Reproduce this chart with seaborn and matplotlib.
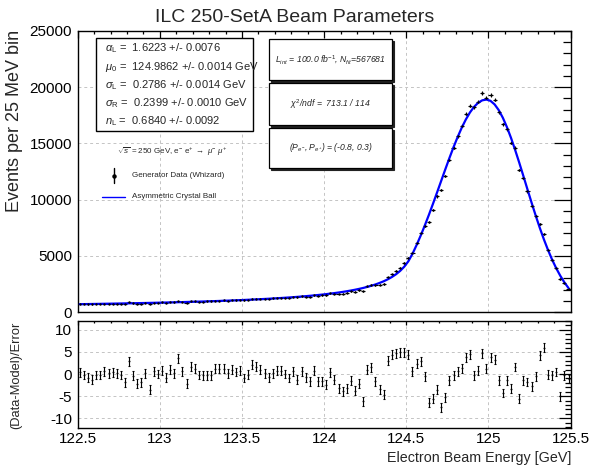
import numpy as np
import matplotlib
matplotlib.use("Agg")
import matplotlib.pyplot as plt
import seaborn as sns
from matplotlib.patches import Rectangle
from matplotlib.lines import Line2D
from matplotlib.ticker import MultipleLocator

# ---------------- data ----------------
bin_low = 122.5
bin_width = 0.025
n_bins = 120

model_counts = [
    696, 701, 707, 713, 719, 725, 732, 738, 744, 751,
    758, 765, 772, 779, 787, 794, 802, 810, 818, 826,
    835, 844, 853, 862, 872, 882, 892, 902, 913, 924,
    935, 947, 959, 971, 984, 997, 1011, 1025, 1040, 1055,
    1071, 1088, 1104, 1122, 1141, 1160, 1180, 1200, 1222, 1245,
    1269, 1294, 1320, 1347, 1377, 1407, 1440, 1474, 1511, 1549,
    1590, 1634, 1682, 1732, 1787, 1846, 1910, 1979, 2056, 2140,
    2232, 2337, 2453, 2586, 2735, 2910, 3116, 3359, 3657, 4030,
    4514, 5173, 5952, 6795, 7694, 8643, 9631, 10646, 11673, 12697,
    13700, 14663, 15568, 16398, 17131, 17755, 18253, 18617, 18833, 18900,
    18785, 18469, 17963, 17282, 16447, 15483, 14417, 13283, 12104, 10909,
    9728, 8581, 7486, 6460, 5517, 4659, 3892, 3217, 2629, 2126,
]

data_counts = [
    707, 696, 686, 678, 714, 720, 748, 743, 755, 756,
    752, 712, 853, 768, 725, 740, 808, 710, 835, 826,
    858, 821, 882, 868, 978, 900, 826, 953, 949, 918,
    926, 938, 950, 1008, 1022, 1035, 1017, 1057, 1054, 1079,
    1042, 1083, 1174, 1177, 1175, 1167, 1154, 1207, 1250, 1273,
    1269, 1262, 1342, 1299, 1399, 1379, 1377, 1503, 1447, 1484,
    1494, 1650, 1629, 1599, 1622, 1708, 1844, 1810, 1956, 1853,
    2279, 2409, 2371, 2413, 2489, 3072, 3362, 3632, 3953, 4341,
    4810, 5216, 6129, 7034, 7650, 8038, 9082, 10285, 10863, 12100,
    13536, 14627, 15643, 16571, 17628, 18354, 18212, 18726, 19478, 19065,
    19306, 18904, 17775, 16717, 16268, 15072, 14609, 12637, 11950, 10721,
    9452, 8535, 7849, 6942, 5506, 4639, 3920, 2934, 2614, 2075,
]

pulls = [
    0.4, -0.2, -0.8, -1.3, -0.2, -0.2, 0.6, 0.2, 0.4, 0.2,
    -0.2, -1.9, 2.9, -0.4, -2.2, -1.9, 0.2, -3.5, 0.6, 0.0,
    0.8, -0.8, 1.0, 0.2, 3.6, 0.6, -2.2, 1.7, 1.2, -0.2,
    -0.3, -0.3, -0.3, 1.2, 1.2, 1.2, 0.2, 1.0, 0.45, 0.75,
    -0.9, -0.15, 2.1, 1.65, 1.0, 0.2, -0.75, 0.2, 0.8, 0.8,
    0.0, -0.9, 0.6, -1.3, 0.6, -0.75, -1.65, 0.75, -1.65, -1.65,
    -2.4, 0.4, -1.3, -3.2, -3.9, -3.2, -1.5, -3.8, -2.2, -6.2,
    1.0, 1.5, -1.65, -3.4, -4.7, 3.0, 4.4, 4.7, 4.9, 4.9,
    4.4, 0.6, 2.3, 2.9, -0.5, -6.5, -5.6, -3.5, -7.5, -5.3,
    -1.4, -0.3, 0.6, 1.35, 3.8, 4.5, -0.3, 0.8, 4.7, 1.2,
    3.8, 3.2, -1.4, -4.3, -1.4, -3.3, 1.6, -5.6, -1.4, -1.8,
    -2.8, -0.5, 4.2, 6.0, -0.15, -0.3, 0.45, -5.0, -0.3, -1.1,
]

x_ticks = [122.5, 123, 123.5, 124, 124.5, 125, 125.5]
x_tick_labels = ["122.5", "123", "123.5", "124", "124.5", "125", "125.5"]
y_ticks_top = [0, 5000, 10000, 15000, 20000, 25000]
y_ticks_bottom = [-10, -5, 0, 5, 10]

param_lines = [
    r"$\alpha_{\rm L}$ =  1.6223 +/- 0.0076",
    r"$\mu_{\rm 0}$ =  124.9862 +/- 0.0014 GeV",
    r"$\sigma_{\rm L}$ =  0.2786 +/- 0.0014 GeV",
    r"$\sigma_{\rm R}$ =  0.2399 +/- 0.0010 GeV",
    r"$n_{\rm L}$ =  0.6840 +/- 0.0092",
]
info_lines = [
    r"$L_{int}$ = 100.0 fb$^{-1}$, $N_{fit}$=567681",
    r"$\chi^{2}$/ndf =  713.1 / 114",
    r"($P_{e^{-}}$, $P_{e^{+}}$) = (-0.8, 0.3)",
]

# ---------------- style ----------------
sns.set_theme(style="white")
plt.rcParams["font.family"] = ["Liberation Sans", "DejaVu Sans"]
plt.rcParams["mathtext.fontset"] = "custom"
plt.rcParams["mathtext.rm"] = "Liberation Sans"
plt.rcParams["mathtext.it"] = "Liberation Sans:italic"
plt.rcParams["mathtext.bf"] = "Liberation Sans:bold"
plt.rcParams["axes.unicode_minus"] = False

W, H = 590, 466
fig = plt.figure(figsize=(W / 100, H / 100), dpi=100)
fig.patch.set_facecolor("white")

def fx(px):
    return px / W

def fy(py):
    return 1 - py / H

ax1 = fig.add_axes([fx(77.7), fy(312), (570.6 - 77.7) / W, (312 - 31) / H])
ax2 = fig.add_axes([fx(77.7), fy(428), (570.6 - 77.7) / W, (428 - 321) / H])

centers = bin_low + bin_width * (np.arange(n_bins) + 0.5)
data = np.array(data_counts, dtype=float)
model = np.array(model_counts, dtype=float)
pull = np.array(pulls, dtype=float)

grid_kw = dict(color="#c4c4c4", linestyle=(0, (3, 3)), linewidth=0.7)

for ax in (ax1, ax2):
    ax.set_facecolor("white")
    ax.set_xlim(122.5, 125.5)
    ax.set_xticks(x_ticks)
    ax.xaxis.set_minor_locator(MultipleLocator(0.1))
    ax.grid(True, which="major", **grid_kw)
    ax.set_axisbelow(True)
    for s in ax.spines.values():
        s.set_color("black")
        s.set_linewidth(1.0)
    ax.tick_params(which="both", direction="in", top=True, right=True,
                   colors="black", width=0.9)

# top panel
ax1.errorbar(centers, data, xerr=bin_width / 2, yerr=np.sqrt(data), fmt="none",
             ecolor="black", elinewidth=0.8, zorder=2)
sns.lineplot(x=centers, y=model, ax=ax1, color="#0000ff", linewidth=1.6,
             zorder=3, legend=False)
sns.scatterplot(x=centers, y=data, ax=ax1, color="black", s=3, linewidth=0,
                zorder=4, legend=False)
ax1.set_ylim(0, 25000)
ax1.set_yticks(y_ticks_top)
ax1.set_yticklabels([str(v) for v in y_ticks_top])
ax1.yaxis.set_minor_locator(MultipleLocator(1000))
ax1.set_xticklabels([])
ax1.tick_params(axis="x", which="major", length=5)
ax1.tick_params(axis="x", which="minor", length=2.5)
ax1.tick_params(axis="y", which="major", length=12, labelsize=11, pad=4)
ax1.tick_params(axis="y", which="minor", length=6)
ax1.set_xlabel("")
ax1.set_ylabel("")

# bottom panel
ax2.errorbar(centers, pull, yerr=1.0, fmt="none", ecolor="black",
             elinewidth=0.8, capsize=1.0, capthick=0.8, zorder=2)
sns.scatterplot(x=centers, y=pull, ax=ax2, color="black", s=2, linewidth=0,
                zorder=3, legend=False)
ax2.set_ylim(-12.2, 12.0)
ax2.set_yticks(y_ticks_bottom)
ax2.set_yticklabels([str(v) for v in y_ticks_bottom])
ax2.yaxis.set_minor_locator(MultipleLocator(1))
ax2.set_xticklabels(x_tick_labels)
ax2.tick_params(axis="x", which="major", length=3, labelsize=11, pad=3)
ax2.tick_params(axis="x", which="minor", length=1.5)
ax2.tick_params(axis="y", which="major", length=9, labelsize=11, pad=4)
ax2.tick_params(axis="y", which="minor", length=4.5)
ax2.set_xlabel("")
ax2.set_ylabel("")

# titles and axis labels
fig.text(0.5, fy(17), "ILC 250-SetA Beam Parameters", ha="center", va="center",
         fontsize=14)
fig.text(fx(15), fy(30), "Events per 25 MeV bin", rotation=90, ha="center",
         va="top", fontsize=13)
fig.text(fx(16), fy(375), "(Data-Model)/Error", rotation=90, ha="center",
         va="center", fontsize=9.3)
fig.text(fx(571), fy(458), "Electron Beam Energy [GeV]", ha="right",
         va="center", fontsize=10.3)

# parameter box
fig.add_artist(Rectangle((fx(96), fy(131)), (253 - 96) / W, (131 - 38) / H,
                         transform=fig.transFigure, facecolor="white",
                         edgecolor="black", linewidth=1.0, zorder=5))
for k, line in enumerate(param_lines):
    fig.text(fx(105), fy(48.3 + 18.2 * k), line, ha="left", va="center",
             fontsize=8, zorder=6)

# info boxes with shadow
box_rows = [(39.3, 80.0), (83.3, 125.0), (127.7, 168.3)]
for (top, bot), txt in zip(box_rows, info_lines):
    fig.add_artist(Rectangle((fx(269.3 + 2), fy(bot + 2)), (391.7 - 269.3) / W,
                             (bot - top) / H, transform=fig.transFigure,
                             facecolor="#222222", edgecolor="#222222",
                             linewidth=0.8, zorder=5))
    fig.add_artist(Rectangle((fx(269.3), fy(bot)), (391.7 - 269.3) / W,
                             (bot - top) / H, transform=fig.transFigure,
                             facecolor="white", edgecolor="black",
                             linewidth=0.9, zorder=6))
    fig.text(fx(330.5), fy((top + bot) / 2), txt, ha="center", va="center",
             fontsize=6.2, style="italic", zorder=7)

# legend
fig.text(fx(172), fy(151.7),
         r"$\sqrt{s}$ = 250 GeV, e$^{-}$ e$^{+}$ $\rightarrow$ $\mu^{-}$ $\mu^{+}$",
         ha="center", va="center", fontsize=5.8, zorder=6)
fig.add_artist(Line2D([fx(114), fx(114)], [fy(168.2), fy(183.2)],
                      transform=fig.transFigure, color="black", lw=1.0, zorder=6))
fig.add_artist(Line2D([fx(114)], [fy(175.7)], transform=fig.transFigure,
                      marker="o", markersize=2.2, color="black", lw=0, zorder=6))
fig.text(fx(131.7), fy(175.7), "Generator Data (Whizard)", ha="left",
         va="center", fontsize=5.8, zorder=6)
fig.add_artist(Line2D([fx(101.7), fx(125)], [fy(196.7), fy(196.7)],
                      transform=fig.transFigure, color="#0000ff", lw=1.0, zorder=6))
fig.text(fx(131.7), fy(196.7), "Asymmetric Crystal Ball", ha="left",
         va="center", fontsize=5.8, zorder=6)

fig.savefig("out.png", dpi=100, facecolor="white")
